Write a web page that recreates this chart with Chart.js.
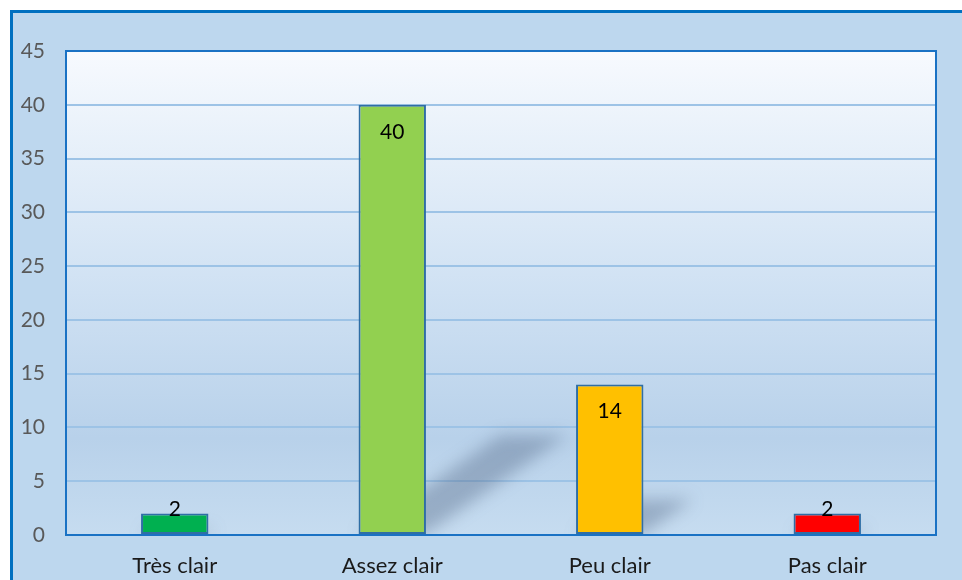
<!DOCTYPE html>
<html>
<head>
<meta charset="utf-8">
<script src="https://cdn.jsdelivr.net/npm/chart.js@4"></script>
<style>
  html, body { margin: 0; padding: 0; background: #fff; }
  #wrap { width: 962px; height: 580px; }
</style>
</head>
<body>
<div id="wrap"><canvas id="chart" width="962" height="580"></canvas></div>
<script>
const categories = ["Très clair", "Assez clair", "Peu clair", "Pas clair"];
const values = [2, 40, 14, 2];
const barColors = ["#00b050", "#92d050", "#ffc000", "#ff0000"];
const yTicks = [0, 5, 10, 15, 20, 25, 30, 35, 40, 45];

const FONT = "Lato, 'Open Sans', sans-serif";

// frame, plot gradient and bar shadows
const backdrop = {
  id: "backdrop",
  beforeDraw(chart) {
    const { ctx, width, height, chartArea: a } = chart;
    ctx.save();
    ctx.fillStyle = "#ffffff";
    ctx.fillRect(0, 0, width, height);
    ctx.fillStyle = "#bdd7ee";
    ctx.fillRect(10, 10, width - 10, height - 10);
    ctx.fillStyle = "#0070c0";
    ctx.fillRect(10, 10, width - 10, 3);
    ctx.fillRect(10, 10, 3, height - 10);

    const g = ctx.createLinearGradient(0, a.top, 0, a.bottom);
    g.addColorStop(0, "#f7fafe");
    g.addColorStop(0.5, "#cfe1f3");
    g.addColorStop(0.8, "#b8d1ea");
    g.addColorStop(1, "#c6dcf0");
    ctx.fillStyle = g;
    ctx.fillRect(a.left, a.top, a.right - a.left, a.bottom - a.top);
    ctx.restore();
  },
  beforeDatasetsDraw(chart) {
    const { ctx, chartArea: a } = chart;
    ctx.save();
    ctx.beginPath();
    ctx.rect(a.left, a.top, a.right - a.left, a.bottom - a.top);
    ctx.clip();
    ctx.filter = "blur(8px)";
    ctx.fillStyle = "rgba(70, 90, 120, 0.35)";
    chart.getDatasetMeta(0).data.forEach((bar) => {
      const h = bar.base - bar.y;
      const w = bar.width;
      const l = bar.x - w / 2;
      const dx = h * 0.33, dy = h * 0.23;
      ctx.beginPath();
      ctx.moveTo(l, bar.base);
      ctx.lineTo(l + w, bar.base);
      ctx.lineTo(l + w + dx, bar.base - dy);
      ctx.lineTo(l + dx, bar.base - dy);
      ctx.closePath();
      ctx.fill();
    });
    ctx.restore();
  },
  afterDatasetsDraw(chart) {
    const { ctx, chartArea: a } = chart;
    ctx.save();
    ctx.strokeStyle = "#1a72c4";
    ctx.lineWidth = 2;
    ctx.strokeRect(a.left, a.top, a.right - a.left, a.bottom - a.top);

    ctx.fillStyle = "#000000";
    ctx.font = "21px " + FONT;
    ctx.textAlign = "center";
    ctx.textBaseline = "middle";
    chart.getDatasetMeta(0).data.forEach((bar, i) => {
      const y = Math.min(bar.y + 27, bar.base - 25);
      ctx.fillText(String(values[i]), bar.x, y);
    });
    ctx.restore();
  }
};

new Chart(document.getElementById("chart"), {
  type: "bar",
  data: {
    labels: categories,
    datasets: [{
      data: values,
      backgroundColor: barColors,
      borderColor: "#2f6ea5",
      borderWidth: 2,
      borderSkipped: false,
      categoryPercentage: 1,
      barPercentage: 0.31
    }]
  },
  options: {
    responsive: false,
    animation: false,
    layout: { padding: { top: 51, right: 26, left: 0, bottom: 0 } },
    plugins: { legend: { display: false }, tooltip: { enabled: false } },
    scales: {
      x: {
        grid: { display: false, drawTicks: false },
        border: { display: false },
        ticks: { color: "#1a1a1a", font: { family: FONT, size: 22 }, padding: 18 },
        afterFit(s) { s.height = 45; }
      },
      y: {
        min: 0,
        max: 45,
        afterBuildTicks(s) { s.ticks = yTicks.map(v => ({ value: v })); },
        grid: { color: "#9dc3e6", lineWidth: 2, drawTicks: false },
        border: { display: false },
        ticks: { color: "#595959", font: { family: FONT, size: 21 }, padding: 21 },
        afterFit(s) { s.width = 66; }
      }
    }
  },
  plugins: [backdrop]
});
</script>
</body>
</html>
